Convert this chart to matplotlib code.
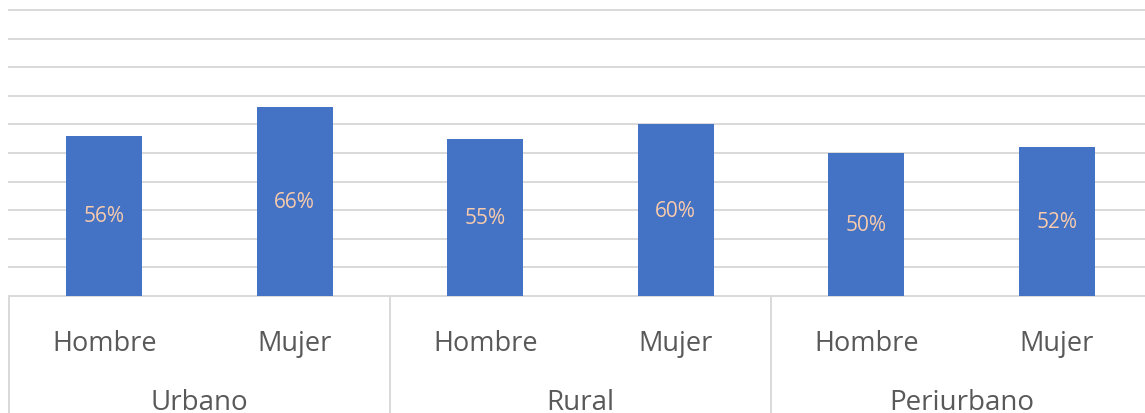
import matplotlib.pyplot as plt
import matplotlib.transforms as mtransforms

# data
zonas = ['Urbano', 'Rural', 'Periurbano']
sexos = ['Hombre', 'Mujer']
valores = [0.56, 0.66, 0.55, 0.60, 0.50, 0.52]

plt.rcParams['font.family'] = ['Open Sans', 'DejaVu Sans']

fig = plt.figure(figsize=(11.45, 4.14), dpi=100)
# the plot area runs a little past the right edge of the image
ax = fig.add_axes([9 / 1145, 117 / 414, 1143 / 1145, 286 / 414])

x = list(range(len(valores)))
bars = ax.bar(x, valores, width=0.4, color='#4472C4', zorder=3)

# labels in the middle of each bar
for b, v in zip(bars, valores):
    ax.text(b.get_x() + b.get_width() / 2, v / 2, f'{round(v * 100)}%',
            ha='center', va='center', color='#F8CBAD', fontsize=15, zorder=4)

ax.set_xlim(-0.5, len(valores) - 0.5)
ax.set_ylim(0, 1)
ax.set_yticks([i / 10 for i in range(11)])
ax.yaxis.grid(True, color='#D9D9D9', linewidth=1.4, zorder=0)
for gl in ax.get_ygridlines():
    gl.set_clip_on(False)
ax.set_axisbelow(True)
ax.tick_params(axis='y', left=False, labelleft=False)
for s in ax.spines.values():
    s.set_visible(False)

ax.set_xticks(x)
ax.set_xticklabels(sexos * len(zonas), fontsize=19.5, color='#595959')
ax.tick_params(axis='x', length=0, pad=24)

# group separators and group names under the axis
trans = mtransforms.blended_transform_factory(ax.transData, ax.transAxes)
for i in range(len(zonas) + 1):
    xs = i * len(sexos) - 0.5
    ax.plot([xs, xs], [0, -0.45], transform=trans, color='#D9D9D9',
            linewidth=1.4, clip_on=False)
for i, z in enumerate(zonas):
    xc = i * len(sexos) + (len(sexos) - 1) / 2
    ax.text(xc, -0.37, z, transform=trans, ha='center', va='center',
            fontsize=20, color='#595959')

fig.savefig('out.png', dpi=100)
